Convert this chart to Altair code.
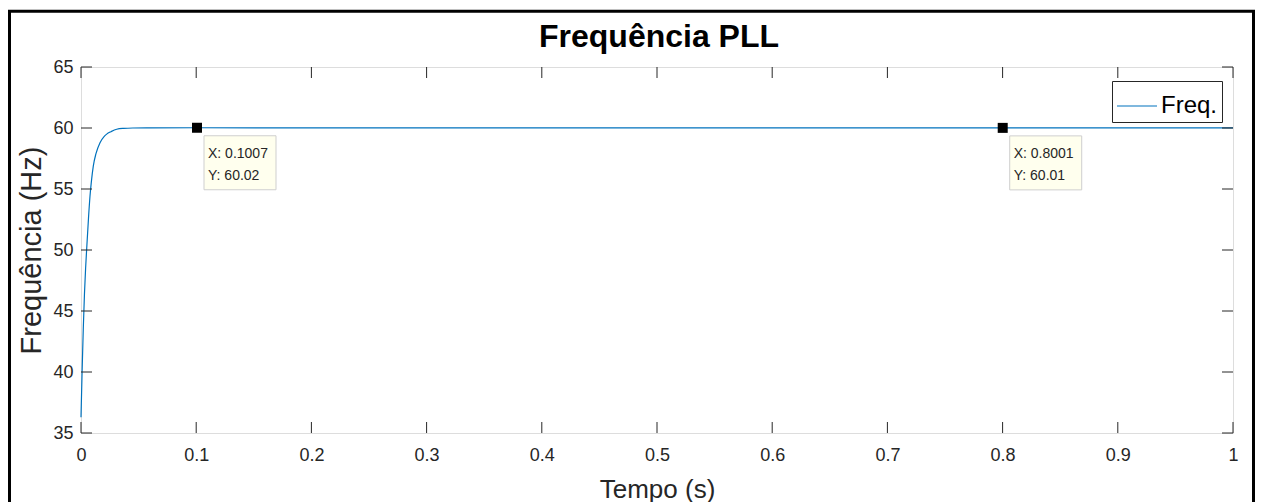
import altair as alt
import pandas as pd

# ---- data ----
tempo = [0.0, 0.001, 0.002, 0.003, 0.004, 0.005, 0.0065, 0.0078, 0.009, 0.0107,
         0.013, 0.0165, 0.02, 0.0223, 0.026, 0.031, 0.037, 0.045, 0.06, 0.1007,
         0.2, 0.3, 0.4, 0.5, 0.6, 0.7, 0.8001, 0.9, 1.0]
freq = [36.3, 40.2, 43.6, 46.4, 48.5, 50.2, 52.6, 54.4, 55.6, 56.9,
        57.9, 58.8, 59.3, 59.5, 59.7, 59.9, 59.97, 60.0, 60.01, 60.02,
        60.01, 60.01, 60.01, 60.01, 60.01, 60.01, 60.01, 60.01, 60.01]
serie = "Freq."

x_ticks = [0, 0.1, 0.2, 0.3, 0.4, 0.5, 0.6, 0.7, 0.8, 0.9, 1]
y_ticks = [35, 40, 45, 50, 55, 60, 65]

tip_x = [0.1007, 0.8001]
tip_y = [60.02, 60.01]
tip_lbl = ["X: 0.1007\nY: 60.02", "X: 0.8001\nY: 60.01"]

titulo = "Frequência PLL"
x_title = "Tempo (s)"
y_title = "Frequência (Hz)"

# ---- styling ----
W, H = 1152, 366
FONT = "Liberation Sans"
AX = "#262626"
BLUE = "#0072BD"
TK = 11

xs = alt.Scale(domain=[0, 1], nice=False, zero=False)
ys = alt.Scale(domain=[35, 65], nice=False, zero=False)

xaxis = alt.Axis(title=x_title, values=x_ticks, format="~g", grid=False, ticks=False,
                 domain=False, tickSize=0, labelPadding=13, labelFontSize=18,
                 labelFlush=False, labelOverlap=False,
                 labelFont=FONT, labelColor=AX, titleFont=FONT, titleFontSize=26,
                 titleColor=AX, titleFontWeight="normal", titlePadding=12)
yaxis = alt.Axis(title=y_title, values=y_ticks, grid=False, ticks=False,
                 domain=False, tickSize=0, labelPadding=8, labelFontSize=18,
                 labelFlush=False, labelOverlap=False,
                 labelFont=FONT, labelColor=AX, titleFont=FONT, titleFontSize=29,
                 titleColor=AX, titleFontWeight="normal", titlePadding=6)


def X():
    return alt.X("t:Q", scale=xs, axis=xaxis)


def Y():
    return alt.Y("f:Q", scale=ys, axis=yaxis)


df_line = pd.DataFrame({"t": tempo, "f": freq, "serie": [serie] * len(tempo)})
df_xt = pd.DataFrame({"t": x_ticks})
df_yt = pd.DataFrame({"f": y_ticks})
df_tip = pd.DataFrame({"t": tip_x, "f": tip_y, "lbl": tip_lbl})
df_one = pd.DataFrame({"k": [0]})

frame = alt.Chart(df_one).mark_rect(fillOpacity=0, stroke="black", strokeWidth=3).encode(
    x=alt.value(-71.5), x2=alt.value(1172.5), y=alt.value(-55.7), y2=alt.value(480)
)

title_mark = alt.Chart(df_one).mark_text(
    text=titulo, font=FONT, fontSize=32, fontWeight="bold", color="black",
    align="center", baseline="alphabetic"
).encode(x=alt.value(W / 2 + 2), y=alt.value(-20.5))

legend = alt.Legend(orient="none", legendX=1031, legendY=14, title=None,
                    symbolType="stroke", symbolSize=1600, symbolStrokeWidth=1.2,
                    labelFontSize=24, labelFont=FONT, labelColor="black",
                    strokeColor=AX, fillColor="white", padding=4, labelOffset=3,
                    cornerRadius=0, labelLimit=300)

line = alt.Chart(df_line).mark_line(strokeWidth=1.2, interpolate="monotone").encode(
    x=X(), y=Y(),
    color=alt.Color("serie:N", scale=alt.Scale(domain=[serie], range=[BLUE]), legend=legend),
)

tick_b = alt.Chart(df_xt).mark_rule(color=AX, strokeWidth=1).encode(
    x=X(), y=alt.value(H), y2=alt.value(H - TK))
tick_t = alt.Chart(df_xt).mark_rule(color=AX, strokeWidth=1).encode(
    x=X(), y=alt.value(0), y2=alt.value(TK))
tick_l = alt.Chart(df_yt).mark_rule(color=AX, strokeWidth=1).encode(
    y=Y(), x=alt.value(0), x2=alt.value(TK))
tick_r = alt.Chart(df_yt).mark_rule(color=AX, strokeWidth=1).encode(
    y=Y(), x=alt.value(W - TK), x2=alt.value(W))

tip_box = alt.Chart(df_tip).mark_rect(
    fill="#FFFFEE", stroke="#CFCFCF", strokeWidth=1,
    xOffset=7, x2Offset=79, yOffset=8, y2Offset=62
).encode(x=X(), x2=alt.X2("t:Q"), y=Y(), y2=alt.Y2("f:Q"))

tip_pt = alt.Chart(df_tip).mark_square(size=100, color="black", opacity=1, filled=True).encode(
    x=X(), y=Y())

tip_txt = alt.Chart(df_tip).mark_text(
    align="left", baseline="alphabetic", dx=11, dy=30, lineBreak="\n",
    lineHeight=22, fontSize=14, font=FONT, color=AX
).encode(x=X(), y=Y(), text="lbl:N")

chart = alt.layer(
    frame, title_mark, line, tick_b, tick_t, tick_l, tick_r, tip_box, tip_pt, tip_txt
).properties(
    width=W, height=H,
    padding={"left": 73, "top": 59, "right": 22, "bottom": 69},
    autosize=alt.AutoSizeParams(type="none"),
).configure_view(stroke=AX, strokeWidth=1).configure(background="white")

chart.save("out.html", embed_options={"renderer": "svg", "actions": False})
